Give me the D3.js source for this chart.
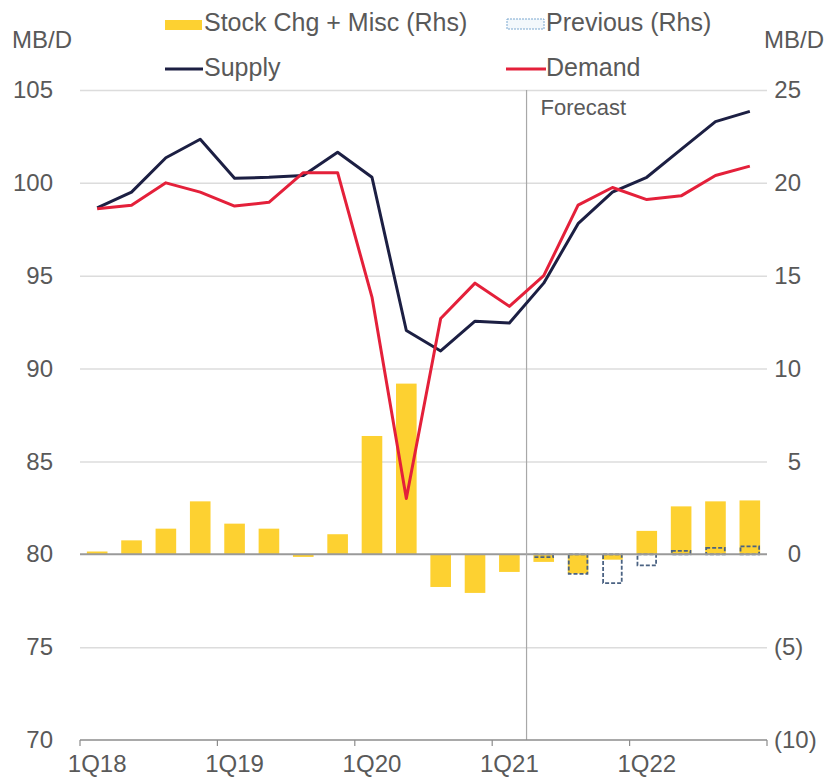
<!DOCTYPE html>
<html>
<head>
<meta charset="utf-8">
<style>
body { margin: 0; background: #fff; }
text { font-family: "Liberation Sans", Arial, sans-serif; fill: #595959; }
.grid line { stroke: #dcdcdc; stroke-width: 1.5px; }
.grid path { display: none; }
.axis path, .axis line { stroke: #8c8c8c; }
.line { fill: none; stroke-width: 3px; stroke-linejoin: round; }
</style>
<script src="https://cdn.jsdelivr.net/npm/d3@7/dist/d3.min.js"></script>
</head>
<body>
<svg width="833" height="777"></svg>
<script>
var quarters = ["1Q18","2Q18","3Q18","4Q18","1Q19","2Q19","3Q19","4Q19",
                "1Q20","2Q20","3Q20","4Q20","1Q21","2Q21","3Q21","4Q21",
                "1Q22","2Q22","3Q22","4Q22"];
var supply = [98.65, 99.5, 101.35, 102.35, 100.25, 100.3, 100.4, 101.65, 100.3, 92.05,
              90.95, 92.55, 92.45, 94.6, 97.8, 99.5, 100.3, 101.8, 103.3, 103.85];
var demand = [98.6, 98.8, 100.0, 99.5, 98.75, 98.95, 100.55, 100.55, 93.85, 83.0,
              92.7, 94.6, 93.35, 95.0, 98.8, 99.75, 99.1, 99.3, 100.4, 100.9];
var stockChg = [0.15, 0.75, 1.38, 2.85, 1.65, 1.38, -0.14, 1.08, 6.37, 9.19,
                -1.76, -2.08, -0.95, -0.41, -1.04, -0.29, 1.26, 2.58, 2.85, 2.9];
var previous = [null, null, null, null, null, null, null, null, null, null,
                null, null, null, -0.15, -1.05, -1.55, -0.6, 0.18, 0.35, 0.43];
var leftTicks = [70, 75, 80, 85, 90, 95, 100, 105];
var rightTicks = [-10, -5, 0, 5, 10, 15, 20, 25];
var forecastStart = "2Q21";

var svg = d3.select("svg");
var plotLeft = 80, plotRight = 767, plotTop = 90, plotBottom = 740;

var x = d3.scaleBand().domain(quarters).range([plotLeft, plotRight]).paddingInner(0.4).paddingOuter(0.2);
var yL = d3.scaleLinear().domain([70, 105]).range([plotBottom, plotTop]);
var yR = d3.scaleLinear().domain([-10, 25]).range([plotBottom, plotTop]);
var gap = x.step() * 0.2;
var cx = function(q) { return x(q) + x.bandwidth() / 2; };

// gridlines
svg.append("g")
    .attr("class", "grid")
    .attr("transform", "translate(" + plotLeft + ",0)")
    .call(d3.axisLeft(yL).tickValues(leftTicks.filter(function(d) { return d > 70 && d != 80; }))
      .tickSize(-(plotRight - plotLeft)).tickFormat(""));

// bars
svg.append("g").selectAll("rect")
    .data(quarters)
  .enter().append("rect")
    .attr("x", function(q) { return x(q); })
    .attr("width", x.bandwidth())
    .attr("y", function(q, i) { return yR(Math.max(0, stockChg[i])); })
    .attr("height", function(q, i) { return Math.abs(yR(stockChg[i]) - yR(0)); })
    .attr("fill", "#fdd131");

svg.append("g").selectAll("rect")
    .data(quarters.filter(function(q, i) { return previous[i] != null; }))
  .enter().append("rect")
    .attr("x", function(q) { return x(q) + 1; })
    .attr("width", x.bandwidth() - 2)
    .attr("y", function(q) { var v = previous[quarters.indexOf(q)]; return yR(Math.max(0, v)); })
    .attr("height", function(q) { var v = previous[quarters.indexOf(q)]; return Math.abs(yR(v) - yR(0)); })
    .attr("fill", "none")
    .attr("stroke", "#4a6282")
    .attr("stroke-width", 1.8)
    .attr("stroke-dasharray", "4,2");

// zero line
svg.append("line")
    .attr("x1", plotLeft).attr("x2", plotRight)
    .attr("y1", yR(0)).attr("y2", yR(0))
    .attr("stroke", "#9a9a9a").attr("stroke-width", 2);

// forecast divider
var fx = x(forecastStart) - gap;
svg.append("line")
    .attr("x1", fx).attr("x2", fx)
    .attr("y1", plotTop).attr("y2", plotBottom)
    .attr("stroke", "#a8a8a8").attr("stroke-width", 1.2);
svg.append("text")
    .attr("x", fx + 14).attr("y", plotTop + 17)
    .attr("dy", "0.35em")
    .style("font-size", "22px")
    .text("Forecast");

// lines
var line = d3.line()
    .x(function(d, i) { return cx(quarters[i]); })
    .y(function(d) { return yL(d); });

svg.append("path").attr("class", "line").attr("d", line(supply)).attr("stroke", "#1c1f43");
svg.append("path").attr("class", "line").attr("d", line(demand)).attr("stroke", "#e4203a");

// bottom axis
var yearStarts = quarters.filter(function(q) { return q.slice(0, 2) == "1Q"; });
var xAxis = svg.append("g").attr("class", "axis");
xAxis.append("line")
    .attr("x1", plotLeft).attr("x2", plotRight)
    .attr("y1", plotBottom).attr("y2", plotBottom)
    .attr("stroke-width", 1.5);
xAxis.selectAll(".tick")
    .data(yearStarts.map(function(q) { return x(q) - gap; }).concat([plotRight]))
  .enter().append("line")
    .attr("x1", function(d) { return d; }).attr("x2", function(d) { return d; })
    .attr("y1", plotBottom).attr("y2", plotBottom + 6)
    .attr("stroke-width", 1.2);
xAxis.selectAll("text")
    .data(yearStarts)
  .enter().append("text")
    .attr("x", function(q) { return cx(q); })
    .attr("y", plotBottom + 24)
    .attr("dy", "0.35em")
    .attr("text-anchor", "middle")
    .style("font-size", "24px")
    .text(function(q) { return q; });

// left axis labels
var gl = svg.append("g")
    .attr("transform", "translate(" + plotLeft + ",0)")
    .call(d3.axisLeft(yL).tickValues(leftTicks).tickSize(0).tickPadding(27));
gl.select(".domain").remove();
gl.selectAll("text").style("font-size", "24px").attr("fill", "#595959");

// right axis labels
var gr = svg.append("g")
    .attr("transform", "translate(" + plotRight + ",0)")
    .call(d3.axisRight(yR).tickValues(rightTicks).tickSize(0)
      .tickFormat(function(d) { return d < 0 ? "(" + (-d) + ")" : d; }));
gr.select(".domain").remove();
gr.selectAll("text")
    .style("font-size", "24px").attr("fill", "#595959")
    .attr("text-anchor", function(d) { return d < 0 ? "start" : "end"; })
    .attr("x", function(d) { return d < 0 ? 7 : 34; });

// unit labels
svg.append("text").attr("x", 12).attr("y", 40).attr("dy", "0.35em").style("font-size", "24px").text("MB/D");
svg.append("text").attr("x", 824).attr("y", 40).attr("dy", "0.35em").attr("text-anchor", "end").style("font-size", "24px").text("MB/D");

// legend
var legend = svg.append("g").style("font-size", "25px");
legend.append("rect").attr("x", 165).attr("y", 20).attr("width", 37).attr("height", 10).attr("fill", "#fdd131");
legend.append("text").attr("x", 204).attr("y", 22).attr("dy", "0.35em").text("Stock Chg + Misc (Rhs)");
legend.append("rect").attr("x", 507).attr("y", 19).attr("width", 37).attr("height", 10)
    .attr("fill", "#f3f8fc").attr("stroke", "#7aa7cf").attr("stroke-width", 1).attr("stroke-dasharray", "2,1");
legend.append("text").attr("x", 546).attr("y", 22).attr("dy", "0.35em").text("Previous (Rhs)");
legend.append("line").attr("x1", 165).attr("x2", 203).attr("y1", 69).attr("y2", 69).attr("stroke", "#1c1f43").attr("stroke-width", 3);
legend.append("text").attr("x", 204).attr("y", 67).attr("dy", "0.35em").text("Supply");
legend.append("line").attr("x1", 506).attr("x2", 546).attr("y1", 69).attr("y2", 69).attr("stroke", "#e4203a").attr("stroke-width", 3);
legend.append("text").attr("x", 546).attr("y", 67).attr("dy", "0.35em").text("Demand");
</script>
</body>
</html>
